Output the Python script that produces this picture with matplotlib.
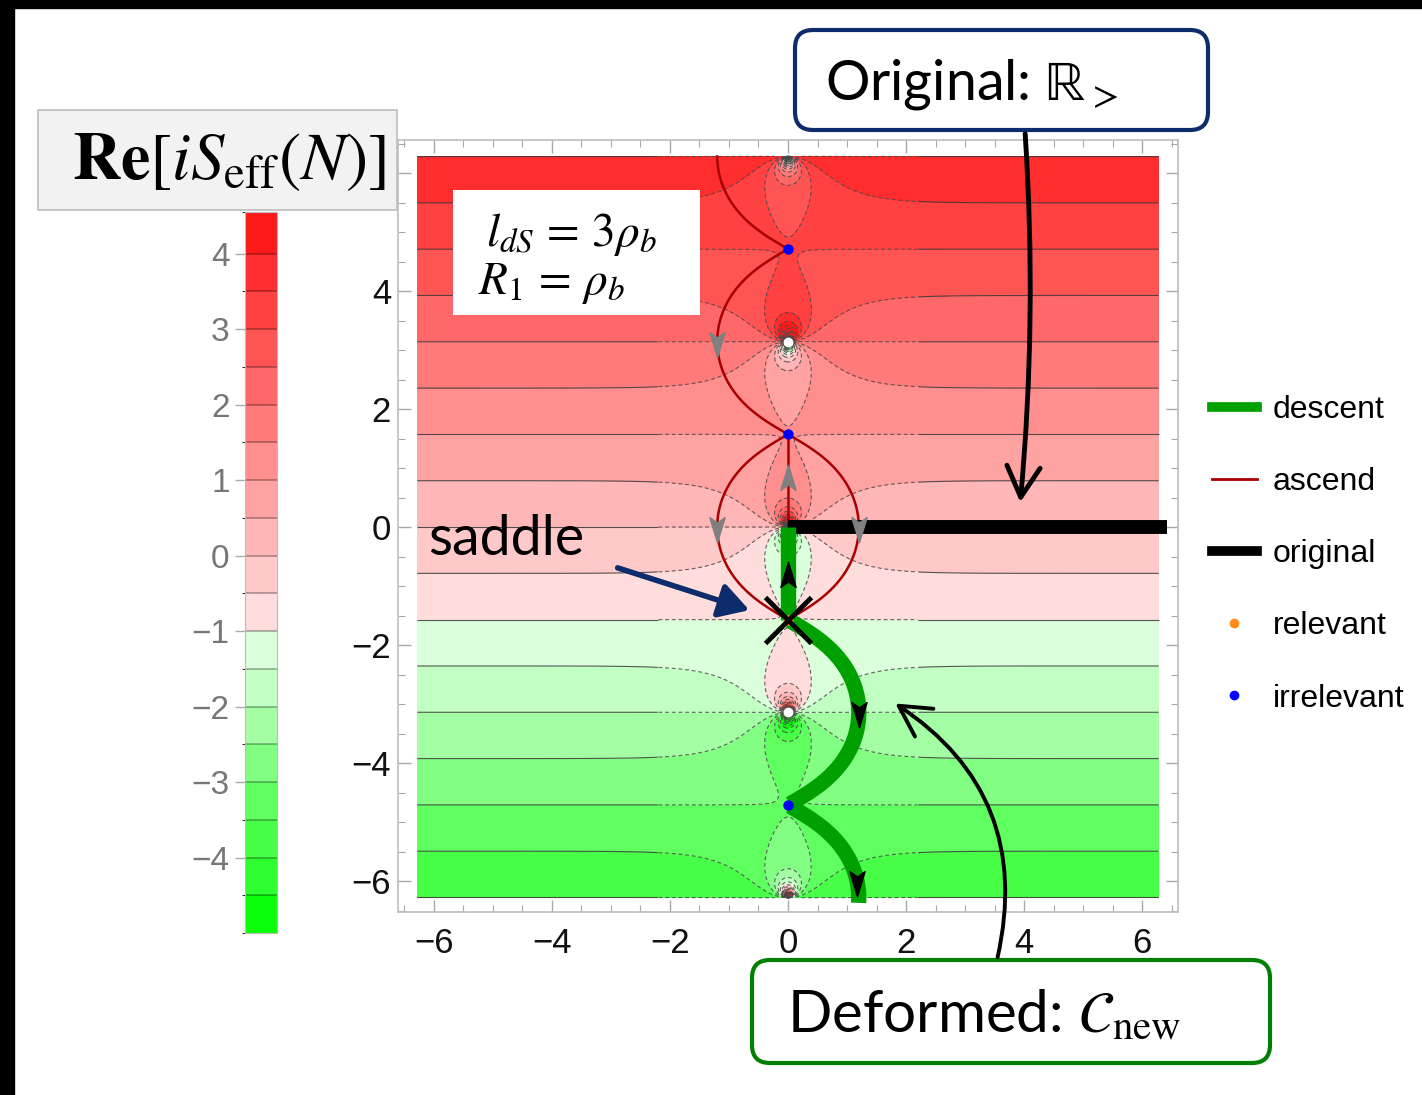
#!/usr/bin/env python3
"""Re[iS_eff(N)] over the complex N plane: original contour R_> and the deformed thimble."""
import numpy as np
import matplotlib

matplotlib.use("Agg")
import matplotlib.pyplot as plt
import contourpy
from matplotlib.colors import ListedColormap, BoundaryNorm
from matplotlib.colorbar import Colorbar
from matplotlib.lines import Line2D
from matplotlib.path import Path
from matplotlib.patches import FancyArrowPatch, FancyBboxPatch, Rectangle
from matplotlib.ticker import MultipleLocator

plt.rcParams["mathtext.fontset"] = "stix"
plt.rcParams["font.family"] = ["Liberation Sans", "DejaVu Sans"]

W, H = 1422, 1095

# ---- values ----
FIELD_HALF = 6.283            # shaded square is [-2pi, 2pi] x [-2pi, 2pi]
RE_SLOPE = 0.637              # Re[iS] climbs 4 while Im N climbs 2pi
SADDLES_Y = [4.71, 1.57, -1.57, -4.71]
SADDLE_KIND = ["irrelevant", "irrelevant", "relevant", "irrelevant"]
POLES_Y = [3.14, -3.14]
BAND_BOUNDS = [-5.0, -4.5, -4.0, -3.5, -3.0, -2.5, -2.0, -1.5, -1.0, -0.5,
               0.0, 0.5, 1.0, 1.5, 2.0, 2.5, 3.0, 3.5, 4.0, 4.55]
BAND_COLORS = ["#0aff0a", "#2eff2e", "#46ff46", "#5eff5e", "#82ff82", "#a4ffa4",
               "#c2ffc2", "#daffda",
               "#ffdddd", "#ffc9c9", "#ffb6b6", "#ffa2a2", "#ff8f8f", "#ff7b7b",
               "#ff6868", "#ff5454", "#ff4141", "#ff2d2d", "#ff1a1a"]
CBAR_TICKS = [-4, -3, -2, -1, 0, 1, 2, 3, 4]
X_TICKS = [-6, -4, -2, 0, 2, 4, 6]
Y_TICKS = [-6, -4, -2, 0, 2, 4, 6]
Y_TICK_LABELS = ["\u22126", "\u22124", "\u22122", "0", "2", "4", ""]   # "6" sits under the colour-bar title
ORIGINAL_X = [0.0, 6.42]
ORIGINAL_Y = [0.0, 0.0]
ASCENT_AXIS_Y = [0.0, 1.57]
DESCENT_AXIS_Y = [0.0, -1.57]
ASCENT_TOP_Y = 6.283
DESCENT_END_Y = -6.37
# (side of the axis, Im N, pointing)
ASCENT_ARROWS = [(-1, 3.14, "down"), (-1, 0.0, "down"), (1, 0.0, "down")]
DESCENT_ARROWS = [(1, -3.14, "down"), (1, -6.0, "down")]
AXIS_ARROWS_ASCENT = [0.8]
AXIS_ARROWS_DESCENT = [-0.85]
LEGEND_LABELS = ["descent", "ascend", "original", "relevant", "irrelevant"]

GREEN = "#00a000"
DARKRED = "#a80000"
NAVY = "#0e2c6b"

cmap = ListedColormap(BAND_COLORS)
cmap.set_over(BAND_COLORS[-1])
cmap.set_under(BAND_COLORS[0])
norm = BoundaryNorm(BAND_BOUNDS, len(BAND_COLORS))

# iS_eff ~ -i a (N - coth N): linear far away, poles at i k pi, saddles at i(pi/2 + k pi)
xs = np.linspace(-FIELD_HALF, FIELD_HALF, 1000)
X, Y = np.meshgrid(xs, xs)
coth = 1.0 / np.tanh(X + 1j * Y)
re_field = RE_SLOPE * (Y - coth.imag)

# steepest paths: Im[iS] = 0 through the saddles
tx = np.linspace(-2.0, 2.0, 800)
ty = np.linspace(-6.45, 6.35, 2400)
TX, TY = np.meshgrid(tx, ty)
im_field = RE_SLOPE * ((1.0 / np.tanh(TX + 1j * TY)).real - TX)
paths = contourpy.contour_generator(tx, ty, im_field).lines(0.0)


def keep_parts(keep):
    out = []
    for seg in paths:
        pts = np.array(seg, dtype=float)
        pts[~keep(pts[:, 0], pts[:, 1])] = np.nan
        if np.isfinite(pts[:, 0]).sum() > 1:
            out.append(pts)
    return out


def point_on(parts, side, y0):
    best, dist = None, np.inf
    for p in parts:
        ok = np.isfinite(p[:, 0]) & (np.sign(p[:, 0]) == side)
        if not ok.any():
            continue
        d = np.abs(p[ok, 1] - y0)
        i = np.argmin(d)
        if d[i] < dist:
            best, dist = p[ok][i], d[i]
    return best


ascent_parts = keep_parts(
    lambda x, y: (np.abs(x) > 0.03)
    & (((x < 0) & (y >= SADDLES_Y[1]) & (y <= ASCENT_TOP_Y))
       | ((y >= SADDLES_Y[2]) & (y <= SADDLES_Y[1])))
)
descent_parts = keep_parts(
    lambda x, y: (x > 0.03) & (y <= SADDLES_Y[2]) & (y >= DESCENT_END_Y)
)

HEAD_DOWN = Path([(0, -1), (0.5, 0.65), (0, 0.3), (-0.5, 0.65), (0, -1)],
                 [Path.MOVETO, Path.LINETO, Path.LINETO, Path.LINETO, Path.CLOSEPOLY])
HEAD_UP = Path([(0, 1), (0.5, -0.65), (0, -0.3), (-0.5, -0.65), (0, 1)],
               [Path.MOVETO, Path.LINETO, Path.LINETO, Path.LINETO, Path.CLOSEPOLY])

fig = plt.figure(figsize=(W / 100, H / 100), dpi=100)
fig.patch.set_facecolor("white")

# ---- main panel ----
ax = fig.add_axes([398 / W, 1 - 912 / H, 780 / W, 772 / H])
ax.contourf(X, Y, re_field, levels=BAND_BOUNDS, cmap=cmap, norm=norm, extend="both", zorder=1)
line_levels = np.arange(-40, 40.01, 0.5)
far = np.ma.masked_where(np.abs(X) < 2.2, re_field)
near = np.ma.masked_where(np.abs(X) >= 2.2, re_field)
ax.contour(X, Y, far, levels=line_levels, colors="#3a3a3a", linewidths=0.8,
           linestyles="solid", alpha=0.85, zorder=2)
ax.contour(X, Y, near, levels=line_levels, colors="#4a4a4a", linewidths=0.8,
           linestyles=[(0, (3.5, 2.5))], alpha=0.85, zorder=2)

for p in ascent_parts:
    ax.plot(p[:, 0], p[:, 1], color=DARKRED, lw=1.8, zorder=4)
ax.plot([0, 0], ASCENT_AXIS_Y, color=DARKRED, lw=1.8, zorder=4)

ax.plot(ORIGINAL_X, ORIGINAL_Y, color="black", lw=10, solid_capstyle="butt", zorder=5)
for p in descent_parts:
    ax.plot(p[:, 0], p[:, 1], color=GREEN, lw=11, solid_capstyle="butt", zorder=6)
ax.plot([0, 0], DESCENT_AXIS_Y, color=GREEN, lw=11, solid_capstyle="butt", zorder=6)

for side, y0, way in ASCENT_ARROWS:
    px, py = point_on(ascent_parts, side, y0)
    ax.plot(px, py, ls="none", marker=HEAD_DOWN if way == "down" else HEAD_UP,
            ms=22, color="#808080", zorder=7)
for y0 in AXIS_ARROWS_ASCENT:
    ax.plot(0, y0, ls="none", marker=HEAD_UP, ms=22, color="#808080", zorder=7)
for side, y0, way in DESCENT_ARROWS:
    px, py = point_on(descent_parts, side, y0)
    ax.plot(px, py, ls="none", marker=HEAD_DOWN if way == "down" else HEAD_UP,
            ms=22, color="black", zorder=7)
for y0 in AXIS_ARROWS_DESCENT:
    ax.plot(0, y0, ls="none", marker=HEAD_UP, ms=22, color="black", zorder=7)

ax.plot(np.zeros(len(POLES_Y)), POLES_Y, ls="none", marker="o", ms=6,
        color="white", zorder=3)
for sy, kind in zip(SADDLES_Y, SADDLE_KIND):
    ax.plot(0, sy, ls="none", marker="o", ms=6.5,
            color="#ff8c1a" if kind == "relevant" else "#0000ff", zorder=8)
    if kind == "relevant":
        ax.plot(0, sy, ls="none", marker="x", ms=33, mew=3.5, color="black", zorder=9)

ax.set_xlim(-6.61, 6.61)
ax.set_ylim(-6.525, 6.56)
ax.set_xticks(X_TICKS)
ax.set_yticks(Y_TICKS)
ax.set_yticklabels(Y_TICK_LABELS)
ax.xaxis.set_minor_locator(MultipleLocator(0.5))
ax.yaxis.set_minor_locator(MultipleLocator(0.5))
ax.tick_params(which="both", direction="in", top=True, right=True, color="#a8a8a8")
ax.tick_params(which="major", length=9, width=1)
ax.tick_params(which="minor", length=5, width=0.8)
ax.tick_params(axis="x", labelsize=25, labelcolor="#111111", pad=11)
ax.tick_params(axis="y", labelsize=25, labelcolor="#111111", pad=5)
for s in ax.spines.values():
    s.set_color("#bdbdbd")
    s.set_linewidth(1.2)

# ---- colour bar ----
cax = fig.add_axes([245 / W, 1 - 933 / H, 32 / W, 721 / H])
cb = Colorbar(cax, cmap=cmap, norm=norm, boundaries=BAND_BOUNDS, spacing="proportional",
              drawedges=True, ticks=CBAR_TICKS)
cb.dividers.set_color((0, 0, 0, 0.3))
cb.dividers.set_linewidth(1.3)
cb.outline.set_edgecolor("#bbbbbb")
cax.yaxis.set_ticks_position("left")
cax.tick_params(length=7, width=1, color="#aaaaaa", labelsize=24, labelcolor="#777777", pad=4)

# ---- legend ----
handles = [
    Line2D([], [], color=GREEN, lw=7),
    Line2D([], [], color=DARKRED, lw=2),
    Line2D([], [], color="black", lw=7),
    Line2D([], [], ls="none", marker="o", color="#ff8c1a", ms=6),
    Line2D([], [], ls="none", marker="o", color="#0000ff", ms=6),
]
fig.legend(handles, LEGEND_LABELS, loc="upper left", bbox_to_anchor=(1212 / W, 1 - 395 / H),
           frameon=False, fontsize=23, handlelength=1.4, handletextpad=0.5,
           labelspacing=1.32, borderpad=0, borderaxespad=0)

# ---- annotations (pixel overlay) ----
ov = fig.add_axes([0, 0, 1, 1], zorder=10)
ov.set_xlim(0, W)
ov.set_ylim(H, 0)
ov.axis("off")
ov.patch.set_alpha(0)

ov.add_patch(Rectangle((0, 0), W, 8, color="black"))
ov.add_patch(Rectangle((0, 0), 14, H, color="black"))

ov.add_patch(Rectangle((38, 110), 359, 100, facecolor="#f2f2f2", edgecolor="#bdbdbd", lw=1.2))
ov.text(229, 162, r"$\mathbf{Re}[iS_{\mathrm{eff}}(N)]$", fontsize=48, ha="center", va="center")

ov.add_patch(Rectangle((453, 190), 247, 125, facecolor="white", edgecolor="none"))
ov.text(486, 235, r"$l_{dS}\,=\,3\rho_b$", fontsize=34, ha="left", va="center")
ov.text(478, 283, r"$R_1\,=\,\rho_b$", fontsize=34, ha="left", va="center")

ov.text(428, 555, "saddle", fontfamily="Lato", fontsize=40, ha="left", va="baseline")
ov.add_patch(FancyArrowPatch((615, 567), (752, 611), arrowstyle="-|>,head_length=0.6,head_width=0.35",
                             mutation_scale=30, color=NAVY, lw=4))

ov.add_patch(FancyBboxPatch((795, 30), 413, 100, boxstyle="round,pad=0,rounding_size=18",
                            facecolor="white", edgecolor=NAVY, lw=3))
ov.text(825, 100, "Original: $\\mathrm{\u211d}_{>}$", fontfamily="Lato", fontsize=40,
        ha="left", va="baseline")
ov.add_patch(FancyArrowPatch((1025, 131), (1020, 505), connectionstyle="arc3,rad=-0.04",
                             arrowstyle="->,head_length=0.55,head_width=0.3",
                             mutation_scale=40, color="black", lw=3.5))

ov.add_patch(FancyBboxPatch((752, 960), 518, 103, boxstyle="round,pad=0,rounding_size=18",
                            facecolor="white", edgecolor="#008000", lw=3))
ov.text(787, 1033, r"Deformed: $\mathcal{C}_{\mathrm{new}}$", fontfamily="Lato", fontsize=42,
        ha="left", va="baseline")
ov.add_patch(FancyArrowPatch((997, 960), (893, 702), connectionstyle="arc3,rad=0.35",
                             arrowstyle="->,head_length=0.55,head_width=0.3",
                             mutation_scale=40, color="black", lw=2.8))

fig.savefig("out.png", dpi=100)
